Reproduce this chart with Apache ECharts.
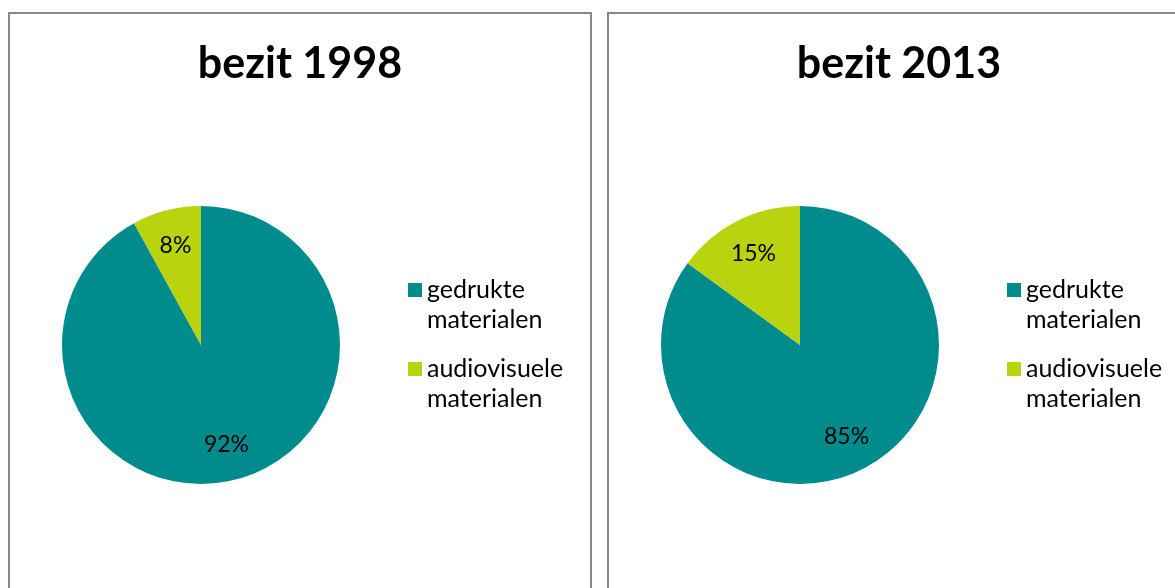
<!DOCTYPE html>
<html>
<head>
<meta charset="utf-8">
<script src="https://cdn.jsdelivr.net/npm/echarts@6/dist/echarts.min.js"></script>
<style>
  html, body { margin: 0; padding: 0; background: #fff; overflow: hidden; }
  .box {
    position: absolute;
    top: 12px;
    width: 580px;
    height: 600px;
    border: 2px solid #878787;
    background: #fff;
  }
  #box1998 { left: 8px; }
  #box2013 { left: 607px; }
</style>
</head>
<body>
<div id="box1998" class="box"></div>
<div id="box2013" class="box"></div>

<script>
// gegevens
const categories = ['gedrukte materialen', 'audiovisuele materialen'];
const values1998 = [92, 8];
const values2013 = [85, 15];
const colors = ['#008C8C', '#B9D30F'];

const font = 'Lato, "Open Sans", sans-serif';

// vierkantje bovenaan, zodat het bij de eerste tekstregel staat
const legendIcon = 'path://M0,0H14V14H0Z M0,44';

const makeOption = (title, values) => {
  const data = categories.map((name, i) => ({ name: name, value: values[i] }));
  return {
    animation: false,
    color: colors,
    title: {
      text: title,
      left: 'center',
      top: 24,
      textStyle: { fontFamily: font, fontSize: 43, fontWeight: 'bold', color: '#000' },
    },
    legend: {
      orient: 'vertical',
      left: 393,
      top: 256,
      icon: legendIcon,
      itemWidth: 14,
      itemHeight: 44,
      itemGap: 19,
      selectedMode: false,
      data: categories,
      formatter: (name) => name.replace(' ', '\n'),
      textStyle: {
        fontFamily: font,
        fontSize: 25,
        lineHeight: 30,
        color: '#000',
      },
    },
    series: [
      {
        // de taart zelf
        type: 'pie',
        center: [191, 331],
        radius: [0, 139],
        startAngle: 90,
        clockwise: true,
        silent: true,
        label: { show: false },
        labelLine: { show: false },
        itemStyle: { borderWidth: 0 },
        data: data,
      },
      {
        // alleen de percentages, iets verder naar buiten
        type: 'pie',
        center: [191, 331],
        radius: [60, 139],
        startAngle: 90,
        clockwise: true,
        silent: true,
        itemStyle: { color: 'rgba(0,0,0,0)', borderWidth: 0 },
        label: {
          show: true,
          position: 'inside',
          formatter: '{c}%',
          fontFamily: font,
          fontSize: 23,
          color: '#000',
        },
        labelLine: { show: false },
        data: data,
      },
    ],
  };
};

const chart1 = echarts.init(document.getElementById('box1998'));
chart1.setOption(makeOption('bezit 1998', values1998));

const chart2 = echarts.init(document.getElementById('box2013'));
chart2.setOption(makeOption('bezit 2013', values2013));
</script>
</body>
</html>
